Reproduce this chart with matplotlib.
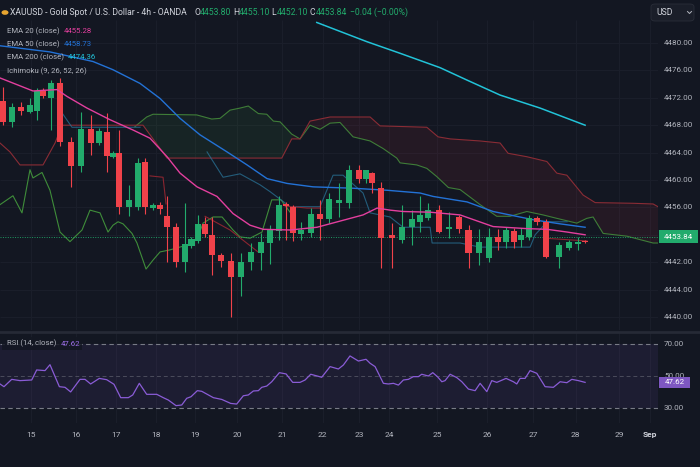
import numpy as np
import matplotlib
matplotlib.use('Agg')
import matplotlib.pyplot as plt
import matplotlib.transforms as mtrans
from matplotlib.patches import Rectangle, FancyBboxPatch, Circle
from matplotlib.lines import Line2D

plt.rcParams['font.family'] = ['Roboto', 'DejaVu Sans']

# ---------------- data (x = bar position, y = price) ----------------
bar_t = [0.00, 1.08, 2.17, 3.25, 4.10, 4.82, 5.78, 6.87, 8.19, 9.40, 10.60, 11.57, 12.53, 13.25,
         13.98, 15.18, 16.27, 17.11, 18.07, 18.90, 19.80, 20.84, 21.93, 22.70, 23.50, 24.34, 25.18,
         26.27, 27.47, 28.64, 29.84, 31.05, 32.17, 33.29, 34.10, 34.90, 35.87, 37.07, 38.19, 39.28,
         40.52, 41.72, 42.93, 43.73, 44.49, 45.54, 46.83, 48.07, 49.24, 50.24, 51.24, 52.53, 53.73,
         54.98, 56.08, 57.35, 58.55, 59.67, 60.57, 61.57, 62.41, 63.37, 64.30, 65.42, 67.02, 68.23,
         69.31, 70.12]
opens = [4471.6, 4468.5, 4470.6, 4470.0, 4470.1, 4473.0, 4471.9, 4474.2, 4465.6, 4462.0, 4467.5,
         4465.4, 4467.0, 4463.4, 4463.9, 4456.1, 4456.1, 4462.6, 4455.9, 4456.4, 4454.7, 4453.1,
         4448.1, 4450.4, 4451.1, 4453.6, 4452.0, 4449.0, 4448.2, 4445.8, 4448.1, 4449.4, 4450.8,
         4452.6, 4456.5, 4456.0, 4452.1, 4452.2, 4455.0, 4454.3, 4456.6, 4456.7, 4461.4, 4460.2,
         4461.0, 4458.8, 4452.0, 4451.2, 4453.1, 4453.8, 4454.4, 4455.6, 4452.8, 4454.6, 4452.7,
         4449.3, 4448.6, 4451.7, 4451.0, 4452.6, 4451.2, 4451.7, 4454.5, 4453.9, 4448.8, 4450.1,
         4450.6, 4451.1]
highs = [4473.6, 4471.2, 4471.4, 4472.0, 4473.4, 4473.4, 4474.6, 4474.9, 4466.3, 4470.0, 4469.5,
         4467.6, 4469.8, 4464.2, 4467.3, 4459.3, 4463.2, 4463.2, 4456.6, 4456.8, 4457.6, 4453.7,
         4456.6, 4451.7, 4454.9, 4454.6, 4454.6, 4449.3, 4449.3, 4449.3, 4450.8, 4452.2, 4453.4,
         4457.6, 4456.8, 4456.3, 4453.9, 4455.9, 4457.1, 4458.1, 4459.5, 4462.2, 4462.2, 4461.5,
         4461.2, 4459.7, 4453.7, 4456.3, 4455.6, 4457.6, 4456.6, 4456.3, 4455.4, 4454.9, 4453.4,
         4452.9, 4453.0, 4452.9, 4453.2, 4453.0, 4453.0, 4454.9, 4454.7, 4454.3, 4451.0, 4451.2,
         4451.7, 4451.2]
lows = [4468.0, 4467.8, 4469.5, 4469.8, 4468.8, 4471.9, 4467.3, 4464.9, 4459.0, 4461.2, 4463.6,
        4465.1, 4461.2, 4463.2, 4455.1, 4454.7, 4455.6, 4455.0, 4455.6, 4455.0, 4448.1, 4447.3,
        4446.6, 4450.1, 4450.8, 4451.7, 4446.1, 4447.3, 4440.0, 4443.0, 4446.9, 4446.9, 4447.8,
        4451.2, 4451.2, 4451.1, 4451.3, 4451.7, 4451.3, 4453.7, 4454.6, 4455.9, 4459.5, 4459.5,
        4458.1, 4447.1, 4447.1, 4450.8, 4450.5, 4452.4, 4454.2, 4452.2, 4451.5, 4452.2, 4447.1,
        4447.6, 4448.0, 4449.8, 4450.0, 4450.1, 4450.2, 4451.2, 4453.4, 4448.6, 4447.1, 4449.8,
        4449.8, 4450.8]
closes = [4468.5, 4470.7, 4470.1, 4470.9, 4473.0, 4472.2, 4474.2, 4465.6, 4462.0, 4467.5, 4465.4,
          4467.1, 4463.5, 4463.9, 4456.1, 4457.1, 4462.5, 4456.0, 4456.3, 4455.7, 4453.1, 4448.1,
          4450.7, 4451.4, 4453.6, 4452.1, 4449.0, 4448.2, 4445.9, 4448.1, 4449.5, 4451.0, 4452.7,
          4456.3, 4456.2, 4452.2, 4452.7, 4455.0, 4454.3, 4457.2, 4457.1, 4461.4, 4460.2, 4461.4,
          4459.6, 4451.5, 4451.6, 4453.1, 4454.3, 4454.9, 4455.6, 4452.4, 4453.2, 4452.8, 4449.3,
          4451.0, 4451.7, 4451.0, 4452.7, 4451.0, 4452.0, 4454.5, 4453.9, 4448.8, 4450.5, 4451.0,
          4451.0, 4450.9]

ema20_t = [-0.36, 3.61, 6.51, 7.71, 10.12, 12.89, 15.66, 17.71, 19.76, 21.33, 23.37, 25.78, 27.71,
           29.76, 31.33, 34.58, 37.83, 40.6, 43.37, 45.06, 46.63, 48.19, 51.45, 55.06, 59.04, 63.13,
           65.54, 67.95, 70.12]
ema20_v = [4474.9, 4473.0, 4473.2, 4472.2, 4470.5, 4468.8, 4467.3, 4466.1, 4463.4, 4461.0, 4459.0,
           4457.6, 4455.1, 4453.4, 4452.8, 4452.7, 4453.1, 4454.0, 4454.9, 4455.9, 4455.6, 4455.4,
           4455.3, 4454.9, 4453.2, 4452.9, 4452.8, 4452.4, 4452.0]
ema50_t = [-0.36, 5.66, 10.84, 13.25, 16.51, 18.92, 21.33, 23.73, 26.99, 29.4, 31.81, 34.22, 37.35,
           42.17, 46.27, 50.24, 51.81, 55.9, 59.04, 63.86, 67.1, 70.12]
ema50_v = [4479.6, 4478.7, 4477.3, 4476.1, 4474.1, 4471.9, 4469.0, 4466.6, 4464.1, 4462.2, 4460.2,
           4459.5, 4459.0, 4458.8, 4458.5, 4458.1, 4457.6, 4456.8, 4455.4, 4454.2, 4453.6, 4453.1]
ema200_t = [37.8, 43.82, 47.83, 52.65, 55.87, 59.88, 64.7, 70.12]
ema200_v = [4483.0, 4480.2, 4478.5, 4476.4, 4474.6, 4472.4, 4470.5, 4468.0]

spanA_t = [15.9, 17.31, 18.07, 23.34, 25.14, 26.14, 27.35, 28.55, 29.55, 30.76, 31.77, 32.57, 33.37,
           34.78, 35.78, 36.99, 38.19, 39.4, 40.6, 42.17, 44.22, 45.78, 47.43, 47.83, 49.84, 51.05,
           52.25, 53.65, 55.06, 57.47, 59.48, 61.08, 63.1, 65.06, 66.71, 69.12, 70.32, 71.08, 72.29,
           75.14, 78.31, 78.9]
spanA_v = [4467.8, 4469.2, 4469.6, 4469.5, 4468.9, 4469.0, 4470.2, 4470.5, 4470.8, 4469.7, 4469.6,
           4468.6, 4468.5, 4466.7, 4466.0, 4468.0, 4467.4, 4468.3, 4468.4, 4466.3, 4465.7, 4464.6,
           4463.2, 4462.5, 4462.2, 4461.7, 4460.5, 4458.9, 4458.6, 4456.4, 4454.7, 4454.7, 4455.4,
           4454.9, 4454.4, 4453.7, 4454.4, 4454.6, 4452.2, 4451.8, 4450.8, 4450.8]
spanB_t = [-0.36, 0.84, 2.05, 4.82, 6.27, 7.11, 16.87, 19.76, 33.58, 34.78, 35.78, 36.99, 39.4,
           44.22, 45.42, 51.05, 52.41, 53.86, 57.47, 59.88, 60.84, 63.1, 65.51, 66.71, 67.92, 69.88,
           71.33, 75.9, 78.31, 78.9]
spanB_v = [4465.4, 4464.1, 4462.2, 4462.2, 4465.4, 4468.0, 4468.0, 4463.2, 4463.2, 4466.0, 4466.0,
           4468.6, 4469.2, 4469.2, 4467.9, 4467.7, 4466.3, 4466.0, 4465.7, 4465.4, 4463.9, 4463.4,
           4462.7, 4461.0, 4460.7, 4457.8, 4456.7, 4456.6, 4456.5, 4456.1]
lag_t = [-0.36, 1.2, 2.29, 3.25, 3.61, 4.7, 5.66, 6.87, 8.07, 9.52, 10.48, 11.69, 12.65, 13.25,
         13.86, 14.46, 15.54, 16.14, 17.23, 18.07, 18.92, 20.12, 22.17, 23.37, 24.1, 25.3, 26.39,
         27.71, 28.55, 29.76, 31.2, 32.37, 33.49, 34.58]
lag_v = [4456.4, 4457.7, 4455.2, 4461.5, 4460.3, 4461.1, 4458.5, 4452.4, 4451.0, 4452.7, 4455.6,
         4455.2, 4452.4, 4453.4, 4453.9, 4453.6, 4452.2, 4450.8, 4447.0, 4448.3, 4449.5, 4449.8,
         4450.5, 4451.3, 4453.7, 4454.6, 4454.6, 4452.7, 4451.7, 4451.5, 4452.4, 4457.1, 4457.1,
         4455.3]
nan = float('nan')
tenkan_t = [7.11, 8.31, 16.51, nan, 24.58, 26.51, 28.55, 30.96, 32.17, 34.58, 38.19, 39.76,
            40.96, 43.37, 44.22, 46.63, 48.19, 51.45, 51.69, 55.06, 57.47, 63.49, 64.1, 65.54, 67.95]
tenkan_v = [4469.8, 4467.7, 4467.7, nan, 4464.1, 4460.4, 4460.9, 4459.3, 4458.3, 4456.1,
            4456.1, 4460.7, 4460.7, 4458.1, 4455.2, 4454.6, 4453.1, 4453.1, 4450.8, 4450.8, 4450.2,
            4450.2, 4452.0, 4453.9, 4453.9]
kijun_t = [17.71, 19.28, 19.64, nan, 24.34, 27.35, 30.72, 31.2, nan, 33.98, 36.63, 38.19, nan,
           65.3, 70.36]
kijun_v = [4460.6, 4460.4, 4456.5, nan, 4454.7, 4452.7, 4449.5, 4449.5, nan, 4456.2, 4455.9,
           4455.9, nan, 4451.5, 4451.1]

rsi_t = [-0.36, 0.12, 1.05, 2.05, 3.46, 4.06, 5.06, 5.66, 6.79, 7.47, 8.15, 9.28, 9.88, 10.56, 11.6,
         12.49, 13.37, 14.18, 15.1, 15.63, 16.42, 17.31, 18.52, 19.31, 19.92, 20.84, 21.53, 22.13,
         22.65, 23.41, 23.94, 25.34, 26.35, 27.43, 28.15, 28.95, 29.55, 30.16, 30.76, 31.17, 31.77,
         32.37, 33.29, 34.1, 34.9, 35.78, 36.39, 37.07, 37.71, 38.39, 39.4, 40.4, 41.0, 41.8, 42.81,
         43.73, 44.22, 44.82, 45.82, 46.42, 47.03, 47.63, 48.23, 48.83, 49.43, 50.04, 50.44, 51.24,
         51.77, 52.33, 52.86, 53.25, 53.86, 54.66, 55.27, 56.06, 56.87, 57.47, 58.28, 58.88, 59.48,
         60.6, 61.48, 61.89, 62.29, 62.89, 63.49, 64.3, 65.3, 66.3, 67.11, 67.92, 68.52, 69.31, 70.12]
rsi_v = [44.9, 43.2, 47.8, 47.0, 47.4, 53.7, 53.3, 57.0, 43.2, 42.8, 39.9, 47.8, 47.8, 44.9, 48.4,
         47.6, 44.7, 36.3, 36.3, 38.0, 45.3, 38.4, 38.4, 36.3, 34.8, 31.3, 31.7, 35.9, 36.9, 40.7,
         40.3, 36.3, 35.2, 32.7, 32.3, 37.5, 38.0, 40.5, 40.7, 42.8, 43.6, 46.3, 52.0, 51.2, 45.9,
         45.9, 47.4, 51.0, 50.1, 49.1, 55.8, 54.3, 56.8, 62.5, 59.3, 60.4, 57.9, 55.8, 45.3, 44.9,
         45.3, 44.2, 47.4, 47.8, 49.5, 49.5, 51.0, 49.9, 52.0, 49.5, 46.3, 47.0, 51.0, 48.9, 46.3,
         41.7, 40.7, 45.3, 40.1, 47.0, 45.9, 48.4, 46.3, 44.9, 48.4, 48.4, 53.3, 51.6, 43.2, 42.8,
         46.3, 45.7, 47.8, 47.0, 45.9]

price_line = 4451.7
price_grid = [4480, 4476, 4472, 4468, 4464, 4460, 4456, 4452, 4448, 4444, 4440]
price_ticks = [4480, 4476, 4472, 4468, 4464, 4460, 4456, 4448, 4444, 4440]
price_tick_labels = ['4480.00', '4476.00', '4472.00', '4468.00', '4464.00', '4460.00', '4456.00',
                     '4442.00', '4444.00', '4440.00']
rsi_ticks = [70, 50, 30]
rsi_tick_labels = ['70.00', '50.00', '30.00']
date_pos = [3.34, 8.80, 13.58, 18.43, 23.10, 28.23, 33.61, 38.52, 42.93, 46.54, 52.33, 58.35,
            63.89, 69.00, 74.25, 77.95]
date_labels = ['15', '16', '17', '18', '19', '20', '21', '22', '23', '24', '25', '26', '27', '28',
               '29', 'Sep']

title = 'XAUUSD - Gold Spot / U.S. Dollar - 4h - OANDA'
ohlc_letters = ['O', 'H', 'L', 'C']
ohlc_values = ['4453.80', '4455.10', '4452.10', '4453.84']
change_text = '\u22120.04 (\u22120.00%)'
legend_names = ['EMA 20 (close)', 'EMA 50 (close)', 'EMA 200 (close)', 'Ichimoku (9, 26, 52, 26)']
legend_values = ['4455.28', '4458.73', '4474.36', '']
last_price_text = '4453.84'
rsi_name = 'RSI (14, close)'
rsi_value_text = '47.62'

x_range = (-0.36, 78.9)
price_range = (4438.10, 4483.36)
rsi_range = (20.4, 76.9)

# ---------------- styling ----------------
W, H = 700, 467
BG = '#131722'
TXT = '#b2b5be'
UP = '#22ab6c'
DN = '#f0424a'
C20 = '#e33f9e'
C50 = '#2372d6'
C200 = '#22c3d8'
RSIC = '#8a5cd6'

fig = plt.figure(figsize=(W / 100, H / 100), dpi=100, facecolor=BG)


def fx(x):
    return x / W


def fy(y):
    return 1 - y / H


ax = fig.add_axes([0, fy(330), fx(658), fy(20) - fy(330)])
ax2 = fig.add_axes([0, fy(423), fx(658), fy(333) - fy(423)])
for a in (ax, ax2):
    a.set_facecolor(BG)
    for s in a.spines.values():
        s.set_visible(False)
    a.set_xticks([])
    a.set_yticks([])
    a.set_xlim(*x_range)
ax.set_ylim(*price_range)
ax2.set_ylim(*rsi_range)

GRID = '#1b1f2b'
ax.hlines(price_grid, *x_range, color=GRID, lw=0.7, zorder=0)
ax.vlines(date_pos, *price_range, color=GRID, lw=0.7, zorder=0)
ax2.vlines(date_pos, *rsi_range, color=GRID, lw=0.7, zorder=0)

# ---- Ichimoku cloud ----
sa_t, sa_v = np.array(spanA_t), np.array(spanA_v)
sb_t, sb_v = np.array(spanB_t), np.array(spanB_v)
cross = min(set(spanA_t) & set(spanB_t))
g_top = sa_t <= cross
g_bot = (sb_t >= sa_t[0]) & (sb_t <= cross)
ax.fill(np.concatenate([sa_t[g_top], sb_t[g_bot][::-1]]),
        np.concatenate([sa_v[g_top], sb_v[g_bot][::-1]]),
        color='#43a047', alpha=0.10, lw=0, zorder=1)
r_top = sb_t >= cross
r_bot = sa_t >= cross
ax.fill(np.concatenate([sb_t[r_top], sa_t[r_bot][::-1]]),
        np.concatenate([sb_v[r_top], sa_v[r_bot][::-1]]),
        color='#f23645', alpha=0.08, lw=0, zorder=1)
ax.plot(sa_t, sa_v, color='#3f7d38', lw=0.8, zorder=2)
ax.plot(sb_t, sb_v, color='#8a2c35', lw=0.8, zorder=2)
ax.plot(lag_t, lag_v, color='#3f8d3a', lw=0.8, zorder=2)
ax.plot(tenkan_t, tenkan_v, color='#2a7aa0', lw=0.8, alpha=0.7, zorder=2)
ax.plot(kijun_t, kijun_v, color='#8a2530', lw=0.8, zorder=2)

# ---- EMAs ----
ax.plot(ema50_t, ema50_v, color=C50, lw=1.0, zorder=3)
ax.plot(ema200_t, ema200_v, color=C200, lw=1.1, zorder=3)

# ---- candles ----
o = np.array(opens)
c = np.array(closes)
col = np.where(c >= o, UP, DN)
ax.vlines(bar_t, lows, highs, colors=col, lw=0.8, zorder=4)
ax.bar(bar_t, np.maximum(np.abs(c - o), 0.25), bottom=np.minimum(o, c), width=0.74,
       color=col, lw=0, zorder=5)
ax.plot(ema20_t, ema20_v, color=C20, lw=1.0, zorder=6)

ax.axhline(price_line, color=UP, lw=0.7, ls=(0, (1, 1.5)), zorder=3, alpha=0.9)

# ---- price axis ----
bt = mtrans.blended_transform_factory(fig.transFigure, ax.transData)
for v, lab in zip(price_ticks, price_tick_labels):
    fig.text(fx(664), v, lab, transform=bt, color=TXT, fontsize=5.8, va='center', ha='left')
fig.add_artist(Rectangle((fx(659), price_line - 0.95), fx(698) - fx(659), 1.9, transform=bt,
                         color=UP, lw=0, zorder=10))
fig.text(fx(678.5), price_line, last_price_text, transform=bt, color='white', fontsize=5.8,
         va='center', ha='center', zorder=11)

# ---- RSI ----
ax2.axhspan(30, 70, color='#7e57c2', alpha=0.10, lw=0, zorder=1)
ax2.hlines([70, 30], *x_range, color='#787b86', lw=0.8, ls=(0, (4, 3)), zorder=2)
ax2.hlines([50], *x_range, color='#787b86', lw=0.7, ls=(0, (4, 3)), alpha=0.5, zorder=2)
ax2.plot(rsi_t, rsi_v, color=RSIC, lw=0.9, zorder=3)
bt2 = mtrans.blended_transform_factory(fig.transFigure, ax2.transData)
for v, lab in zip(rsi_ticks, rsi_tick_labels):
    fig.text(fx(664), v, lab, transform=bt2, color=TXT, fontsize=5.8, va='center', ha='left')
fig.add_artist(Rectangle((fx(659), rsi_v[-1] - 3.4), fx(690) - fx(659), 6.8, transform=bt2,
                         color='#7e57c2', lw=0, zorder=10))
fig.text(fx(674.5), rsi_v[-1], rsi_value_text, transform=bt2, color='white', fontsize=5.8,
         va='center', ha='center', zorder=11)

# RSI legend
fig.add_artist(Rectangle((fx(2), fy(350)), fx(82) - fx(2), fy(337) - fy(350),
                         transform=fig.transFigure, color=BG, alpha=0.85, lw=0, zorder=9))
fig.text(fx(7), fy(343.5), rsi_name, color=TXT, fontsize=5.6, va='center', ha='left', zorder=10)
fig.text(fx(61), fy(343.5), rsi_value_text, color='#9c6ee8', fontsize=5.6, va='center', ha='left',
         zorder=10)

# separator
fig.add_artist(Line2D([0, 1], [fy(331.5), fy(331.5)], transform=fig.transFigure,
                      color='#262a36', lw=2.0))

# ---- date axis ----
btd = mtrans.blended_transform_factory(ax2.transData, fig.transFigure)
for p, lab in zip(date_pos, date_labels):
    fig.text(p, fy(435), lab, transform=btd, color=TXT if lab.isdigit() else '#d1d4dc',
             fontsize=6, va='center', ha='center', fontweight='normal' if lab.isdigit() else 'bold')

# ---- header ----
fig.add_artist(Circle((fx(5), fy(12.5)), 0.005, transform=fig.transFigure, color='#e8a530', lw=0))
fig.text(fx(10), fy(12.5), title, color='#d1d4dc', fontsize=6.2, va='center', ha='left')
letter_x = [194.3, 233.3, 271.7, 310]
for lx, L, V in zip(letter_x, ohlc_letters, ohlc_values):
    fig.text(fx(lx), fy(12.5), L, color='#d1d4dc', fontsize=6.2, va='center', ha='left')
    fig.text(fx(lx + 5.6), fy(12.5), V, color=UP, fontsize=6.2, va='center', ha='left')
fig.text(fx(350), fy(12.5), change_text, color=UP, fontsize=6.2, va='center', ha='left')

leg_y = [30.7, 43.7, 56.7, 70.7]
leg_vx = [63.3, 63.3, 67.7, 0]
leg_c = [C20, C50, C200, TXT]
for yy, name, val, vx, cc in zip(leg_y, legend_names, legend_values, leg_vx, leg_c):
    fig.text(fx(7), fy(yy), name, color=TXT, fontsize=5.6, va='center', ha='left', zorder=10)
    if val:
        fig.text(fx(vx), fy(yy), val, color=cc, fontsize=5.6, va='center', ha='left', zorder=10)

# USD button
fig.add_artist(FancyBboxPatch((fx(651), fy(21)), fx(694) - fx(651), fy(4) - fy(21),
                              boxstyle='round,pad=0,rounding_size=0.006',
                              transform=fig.transFigure, fc='#1a1e29', ec='#2a2e39', lw=0.6))
fig.text(fx(656), fy(12.5), 'USD', color='#d1d4dc', fontsize=6.2, va='center', ha='left')
fig.add_artist(Line2D([fx(687.5), fx(689.5), fx(691.5)], [fy(11.5), fy(13.5), fy(11.5)],
                      transform=fig.transFigure, color='#b2b5be', lw=0.7))

fig.savefig('out.png', dpi=100, facecolor=BG)
